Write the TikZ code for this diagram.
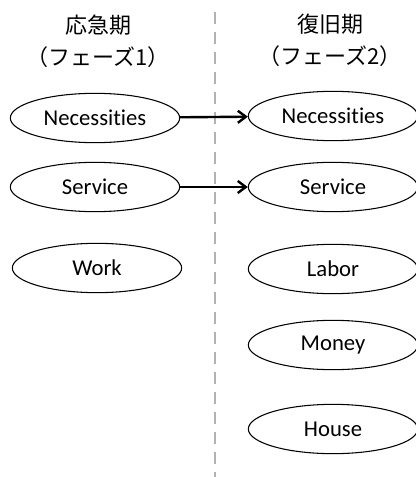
\documentclass[tikz,border=0pt]{standalone}
\usepackage{fontspec}
\setmainfont[RawFeature={-liga;-dlig;-clig}]{Carlito}
\newfontfamily\jpfont{Noto Sans CJK JP}
\usetikzlibrary{shapes.geometric, arrows.meta}

\begin{document}
\begin{tikzpicture}[x=0.75pt, y=-0.75pt,
        goods/.style={ellipse, draw, line width=0.8pt, inner sep=0pt,
            minimum width=127pt, minimum height=37pt,
            font=\fontsize{17}{20}\selectfont},
        phasetitle/.style={align=center, font=\jpfont\fontsize{16.5}{24}\selectfont}]
        \useasboundingbox (0,0) rectangle (416,477);
        \draw[line width=2.2pt, gray!60, dash pattern=on 9pt off 6pt] (215,12) -- (215,477);
        \node[phasetitle] (t1) at (98,41) {応急期\\（フェーズ1）};
        \node[phasetitle] (t2) at (330,40) {復旧期\\（フェーズ2）};
        % phase 1
        \node[goods] (n1) at (95,118) {Necessities};
        \node[goods] (s1) at (95,187) {Service};
        \node[goods] (w1) at (97,268) {Work};
        % phase 2
        \node[goods] (n2) at (333,116) {Necessities};
        \node[goods] (s2) at (333,187) {Service};
        \node[goods] (l2) at (333,269) {Labor};
        \node[goods] (m2) at (333,345) {Money};
        \node[goods] (h2) at (333,429) {House};
        \draw[-{Straight Barb[length=6pt, width=9pt]}, line width=1.8pt] (n1) -- (n2);
        \draw[-{Straight Barb[length=6pt, width=9pt]}, line width=1.8pt] (s1) -- (s2);
    \end{tikzpicture}
\end{document}
